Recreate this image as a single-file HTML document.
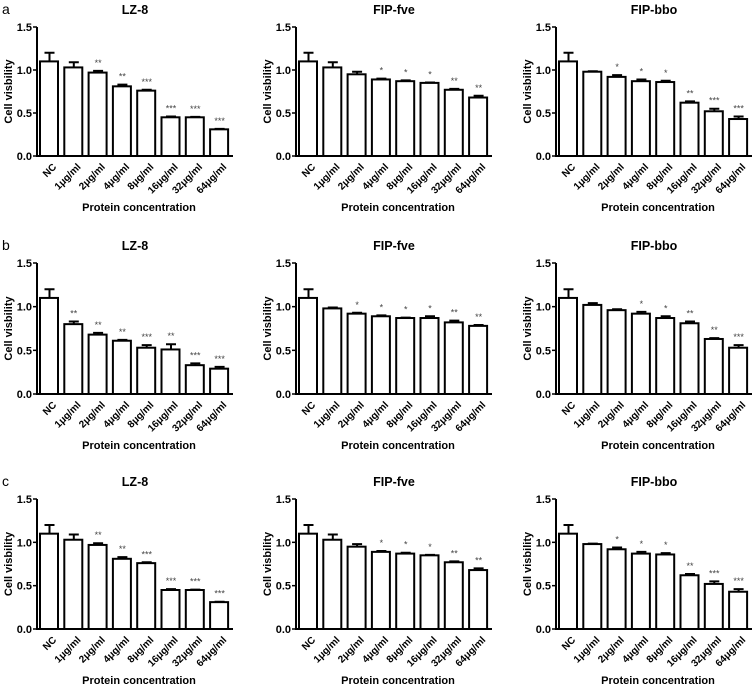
<!DOCTYPE html>
<html><head><meta charset="utf-8"><style>
body{margin:0;background:#fff}
svg{display:block;font-family:"Liberation Sans",Arial,sans-serif}
</style></head><body>
<svg id="fig" width="755" height="684" viewBox="0 0 755 684" xmlns="http://www.w3.org/2000/svg"></svg>
<script>
const categories=["NC","1μg/ml","2μg/ml","4μg/ml","8μg/ml","16μg/ml","32μg/ml","64μg/ml"];
const yTicks=[0,0.5,1.0,1.5];
const yTickLabels=["0.0","0.5","1.0","1.5"];
const titles=["LZ-8","FIP-fve","FIP-bbo"];
const rowLetters=["a","b","c"];
// row a
const aLZ8=[1.10,1.03,0.97,0.81,0.76,0.45,0.45,0.31];
const aLZ8Err=[0.10,0.06,0.02,0.02,0.01,0.01,0.005,0.005];
const aLZ8Sig=["","","**","**","***","***","***","***"];
const aFve=[1.10,1.03,0.95,0.89,0.87,0.85,0.77,0.68];
const aFveErr=[0.10,0.06,0.03,0.01,0.01,0.005,0.01,0.02];
const aFveSig=["","","","*","*","*","**","**"];
const aBbo=[1.10,0.98,0.92,0.87,0.86,0.62,0.52,0.43];
const aBboErr=[0.10,0.005,0.02,0.02,0.015,0.015,0.03,0.03];
const aBboSig=["","","*","*","*","**","***","***"];
// row b
const bLZ8=[1.10,0.80,0.68,0.61,0.53,0.51,0.33,0.29];
const bLZ8Err=[0.10,0.03,0.02,0.01,0.03,0.06,0.02,0.02];
const bLZ8Sig=["","**","**","**","***","**","***","***"];
const bFve=[1.10,0.98,0.92,0.89,0.87,0.87,0.82,0.78];
const bFveErr=[0.10,0.01,0.01,0.01,0.005,0.02,0.02,0.01];
const bFveSig=["","","*","*","*","*","**","**"];
const bBbo=[1.10,1.02,0.96,0.92,0.87,0.81,0.63,0.53];
const bBboErr=[0.10,0.02,0.01,0.02,0.02,0.02,0.01,0.03];
const bBboSig=["","","","*","*","**","**","***"];
// row c
const cLZ8=[1.10,1.03,0.97,0.81,0.76,0.45,0.45,0.31];
const cLZ8Err=[0.10,0.06,0.02,0.02,0.01,0.01,0.005,0.005];
const cLZ8Sig=["","","**","**","***","***","***","***"];
const cFve=[1.10,1.03,0.95,0.89,0.87,0.85,0.77,0.68];
const cFveErr=[0.10,0.06,0.03,0.01,0.01,0.005,0.01,0.02];
const cFveSig=["","","","*","*","*","**","**"];
const cBbo=[1.10,0.98,0.92,0.87,0.86,0.62,0.52,0.43];
const cBboErr=[0.10,0.005,0.02,0.02,0.015,0.015,0.03,0.03];
const cBboSig=["","","*","*","*","**","***","***"];

const rows=[
 [[aLZ8,aLZ8Err,aLZ8Sig],[aFve,aFveErr,aFveSig],[aBbo,aBboErr,aBboSig]],
 [[bLZ8,bLZ8Err,bLZ8Sig],[bFve,bFveErr,bFveSig],[bBbo,bBboErr,bBboSig]],
 [[cLZ8,cLZ8Err,cLZ8Sig],[cFve,cFveErr,cFveSig],[cBbo,cBboErr,cBboSig]]
];
const rowTop=[27,263,499], rowBase=[156,394,629];
const colX=[37,296,556];
const svg=document.getElementById('fig');
const NS="http://www.w3.org/2000/svg";
function mk(tag,attrs,parent,txt){const e=document.createElementNS(NS,tag);for(const k in attrs)e.setAttribute(k,attrs[k]);if(txt!==undefined)e.textContent=txt;(parent||svg).appendChild(e);return e;}

rows.forEach((row,r)=>{
  const letter=mk('text',{x:2,y:rowTop[r]-13,'font-size':14},svg,rowLetters[r]);
  
  
  row.forEach((d,c)=>{
    const [vals,errs,sig]=d;
    const x0=colX[c], top=rowTop[r], base=rowBase[r];
    const ys=v=>base-(v/1.5)*(base-top);
    const step=24.3, bw=19;
    const xb=i=>x0+2+i*step;
    const g=mk('g',{});
    
    
    const t=mk('text',{x:x0+98,y:top-13,'font-size':12.5,'font-weight':'bold','text-anchor':'middle'},g,titles[c]);
    
    
    // bars
    vals.forEach((v,i)=>{
      const x=xb(i)+1, yt=ys(v), ye=ys(v+errs[i]), cx=x+bw/2;
      const b=mk('rect',{x:x,y:yt,width:bw-1,height:base-yt,fill:'#fff',stroke:'#000','stroke-width':2},g);
      
      
      const e=mk('path',{d:`M${cx},${yt}V${ye}M${cx-5},${ye}H${cx+5}`,stroke:'#000','stroke-width':2,fill:'none'},g);
      
      
      if(sig[i]){const s=mk('text',{x:cx,y:ye-5,'font-size':9,fill:'#444','text-anchor':'middle'},g,sig[i]);
        
        }
      const lbl=mk('text',{transform:`translate(${cx+3},${base+7}) rotate(-45)`,'font-size':10,'font-weight':'bold','text-anchor':'end','dominant-baseline':'hanging'},g,categories[i]);
      
      
    });
    // axes
    const ax=mk('path',{d:`M${x0},${top}V${base}H${x0+196}`,stroke:'#000','stroke-width':2,fill:'none'},g);
    
    
    yTicks.forEach((v,k)=>{
      mk('line',{x1:x0-4,x2:x0,y1:ys(v),y2:ys(v),stroke:'#000','stroke-width':1.5},g);
      const tl=mk('text',{x:x0-5,y:ys(v)+4,'font-size':11,'font-weight':'bold','text-anchor':'end'},g,yTickLabels[k]);
      
      
    });
    const yl=mk('text',{transform:`translate(${x0-25},${(top+base)/2}) rotate(-90)`,'font-size':11,'font-weight':'bold','text-anchor':'middle'},g,'Cell visbility');
    
    
    const xl=mk('text',{x:x0+102,y:base+55,'font-size':11,'font-weight':'bold','text-anchor':'middle'},g,'Protein concentration');
    
    
  });
});
</script>
</body></html>
